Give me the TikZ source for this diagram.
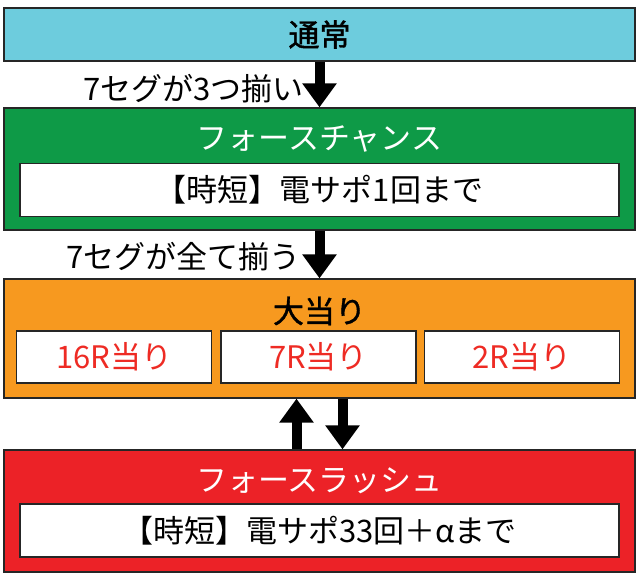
\documentclass[tikz,border=0pt]{standalone}
\usepackage{fontspec}
\setmainfont{Noto Sans CJK JP}
\newfontfamily\medfont{Noto Sans CJK JP}[FakeBold=1.3]
\usetikzlibrary{positioning}
\usetikzlibrary{arrows.meta}
\definecolor{normalblue}{HTML}{6DCCDD}
\definecolor{chancegreen}{HTML}{0E9A47}
\definecolor{hitorange}{HTML}{F7991F}
\definecolor{rushred}{HTML}{EC2227}
\definecolor{roundred}{HTML}{EE2B24}

\begin{document}
\begin{tikzpicture}[
  x=1pt, y=-1pt,
  font=\fontsize{31}{33}\selectfont,
  stagebox/.style={draw=black!85,line width=1.3pt,rectangle,minimum width=631pt,inner sep=0pt},
  infobox/.style={draw=black!85,line width=1.3pt,fill=white,rectangle,minimum width=599pt,minimum height=53pt,inner sep=0pt},
  roundbox/.style={draw=black!85,line width=1.3pt,fill=white,rectangle,minimum width=195pt,minimum height=52pt,inner sep=0pt,text=roundred},
  bigarrow/.style={line width=10pt,-{Triangle[width=33pt,length=24pt]}}
]
\useasboundingbox (0,0) rectangle (640,580);

\node[stagebox, fill=normalblue, minimum height=53pt] (normal) at (319.5,34.5) {\medfont 通常};

\node[stagebox, fill=chancegreen, minimum height=122pt] (chance) at (319.5,169) {};
\node[text=white] (chancetitle) at (319.5,139) {フォースチャンス};
\node[infobox] (chanceinfo) at (319.5,190) {【時短】電サポ1回まで};

\node[stagebox, fill=hitorange, minimum height=119pt] (hit) at (319.5,338.5) {};
\node (hittitle) at (319.5,311) {\medfont 大当り};
\node[roundbox] (r7) at (318.5,357) {7R当り};
\node[roundbox, left=8pt of r7] (r16) {16R当り};
\node[roundbox, right=7pt of r7] (r2) {2R当り};

\node[stagebox, fill=rushred, minimum height=122pt] (rush) at (319.5,511) {};
\node[text=white] (rushtitle) at (319.5,481) {フォースラッシュ};
\node[infobox] (rushinfo) at (319.5,530.5) {【時短】電サポ33回＋αまで};

\node[anchor=east, inner sep=0pt] (lbl1) at (304,89) {7セグが3つ揃い};
\node[anchor=east, inner sep=0pt] (lbl2) at (301,257) {7セグが全て揃う};

\path (normal.south) edge[bigarrow] (chance.north)
(chance.south) edge[bigarrow] (hit.north)
;
\path ([xshift=-23pt]rush.north) edge[bigarrow] ([xshift=-23pt]hit.south);
\path ([xshift=23pt]hit.south) edge[bigarrow] ([xshift=23pt]rush.north);

\end{tikzpicture}
\end{document}
